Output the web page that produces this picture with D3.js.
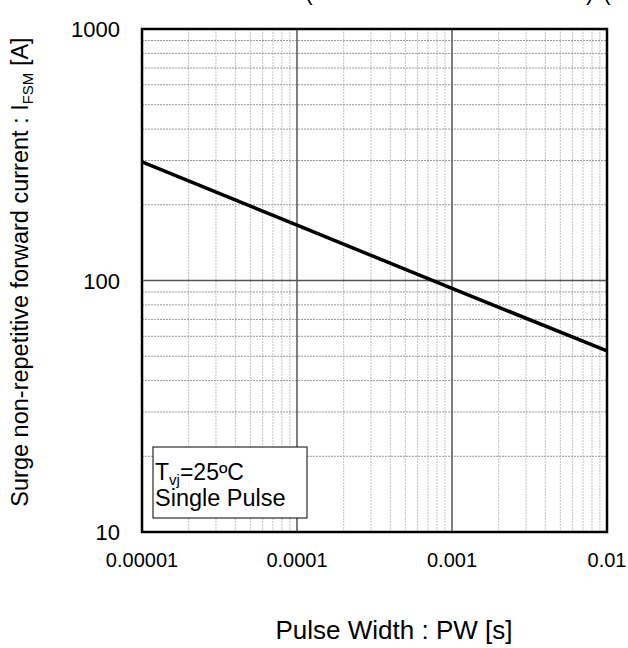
<!DOCTYPE html>
<html lang="en">
<head>
<meta charset="UTF-8">
<title>IFSM vs PW</title>
<script src="https://d3js.org/d3.v7.min.js"></script>
<style>
    body { margin: 0; background: #fff; }
    svg { display: block; font-family: "Liberation Sans", Arial, sans-serif; }
</style>
</head>
<body>
<div id="chart"></div>
<script>
// data
var pulseWidth = [0.00001, 0.0001, 0.001, 0.01];
var surgeCurrent = [296, 166, 93, 52.5];
var xTicks = [0.00001, 0.0001, 0.001, 0.01];
var xTickLabels = ["0.00001", "0.0001", "0.001", "0.01"];
var yTicks = [10, 100, 1000];
var yTickLabels = ["10", "100", "1000"];

var W = 628, H = 648;
var pLeft = 142, pRight = 607, pTop = 29, pBottom = 532;

var svg = d3.select("#chart").append("svg").attr("width", W).attr("height", H);
svg.append("rect").attr("width", W).attr("height", H).attr("fill", "#fff");

var x = d3.scaleLog().domain([0.00001, 0.01]).range([pLeft, pRight]);
var y = d3.scaleLog().domain([10, 1000]).range([pBottom, pTop]);

// minor grid values (2..9 in each decade)
var xMinor = [], yMinor = [];
[0.00001, 0.0001, 0.001].forEach(function(d) {
    for (var k = 2; k <= 9; k++) xMinor.push(d * k);
});
[10, 100].forEach(function(d) {
    for (var k = 2; k <= 9; k++) yMinor.push(d * k);
});

var g = svg.append("g");

g.selectAll(".vminor").data(xMinor).enter().append("line")
    .attr("x1", function(d) { return x(d); }).attr("x2", function(d) { return x(d); })
    .attr("y1", pTop).attr("y2", pBottom)
    .attr("stroke", "#c0c0c0").attr("stroke-width", 1).attr("stroke-dasharray", "2,1");

g.selectAll(".hminor").data(yMinor).enter().append("line")
    .attr("x1", pLeft).attr("x2", pRight)
    .attr("y1", function(d) { return y(d); }).attr("y2", function(d) { return y(d); })
    .attr("stroke", "#9a9a9a").attr("stroke-width", 1).attr("stroke-dasharray", "2,1");

// major grid
g.selectAll(".vmajor").data([0.0001, 0.001]).enter().append("line")
    .attr("x1", function(d) { return x(d); }).attr("x2", function(d) { return x(d); })
    .attr("y1", pTop).attr("y2", pBottom)
    .attr("stroke", "#555").attr("stroke-width", 1.5);

g.selectAll(".hmajor").data([100]).enter().append("line")
    .attr("x1", pLeft).attr("x2", pRight)
    .attr("y1", function(d) { return y(d); }).attr("y2", function(d) { return y(d); })
    .attr("stroke", "#555").attr("stroke-width", 1.5);

// curve
var line = d3.line()
    .x(function(d, i) { return x(pulseWidth[i]); })
    .y(function(d) { return y(d); });

g.append("path").datum(surgeCurrent)
    .attr("d", line)
    .attr("fill", "none").attr("stroke", "#000").attr("stroke-width", 3.5);

// plot border
g.append("rect")
    .attr("x", pLeft).attr("y", pTop)
    .attr("width", pRight - pLeft).attr("height", pBottom - pTop)
    .attr("fill", "none").attr("stroke", "#000").attr("stroke-width", 2.5);

// tick labels
svg.selectAll(".xt").data(xTicks).enter().append("text")
    .attr("x", function(d) { return x(d); }).attr("y", 567)
    .attr("text-anchor", "middle").attr("font-size", 20)
    .text(function(d, i) { return xTickLabels[i]; });

svg.selectAll(".yt").data(yTicks).enter().append("text")
    .attr("x", 120).attr("y", function(d) { return y(d) + 8; })
    .attr("text-anchor", "end").attr("font-size", 22)
    .text(function(d, i) { return yTickLabels[i]; });

// axis titles
svg.append("text")
    .attr("x", 394).attr("y", 639)
    .attr("text-anchor", "middle").attr("font-size", 26)
    .text("Pulse Width : PW [s]");

var yt = svg.append("text")
    .attr("transform", "translate(28,272) rotate(-90)")
    .attr("text-anchor", "middle").attr("font-size", 23.5);
yt.append("tspan").text("Surge non-repetitive forward current : I");
yt.append("tspan").attr("font-size", 15).attr("dy", 5).text("FSM");
yt.append("tspan").attr("dy", -5).text(" [A]");

// remnants of a title clipped by the top edge
svg.append("text").attr("x", 305).attr("y", 0).attr("font-size", 23).text("(");
svg.append("text").attr("x", 586).attr("y", 0).attr("font-size", 23).text(")");
svg.append("text").attr("x", 603).attr("y", 0).attr("font-size", 23).text("(");

// condition box
svg.append("rect")
    .attr("x", 153).attr("y", 447).attr("width", 154).attr("height", 71)
    .attr("fill", "#fff").attr("stroke", "#000").attr("stroke-width", 1);

var l1 = svg.append("text").attr("x", 155).attr("y", 480).attr("font-size", 23);
l1.append("tspan").text("T");
l1.append("tspan").attr("font-size", 15).attr("dy", 5).text("vj");
l1.append("tspan").attr("dy", -5).text("=25ºC");

svg.append("text").attr("x", 155).attr("y", 506).attr("font-size", 23.5)
    .text("Single Pulse");
</script>
</body>
</html>
